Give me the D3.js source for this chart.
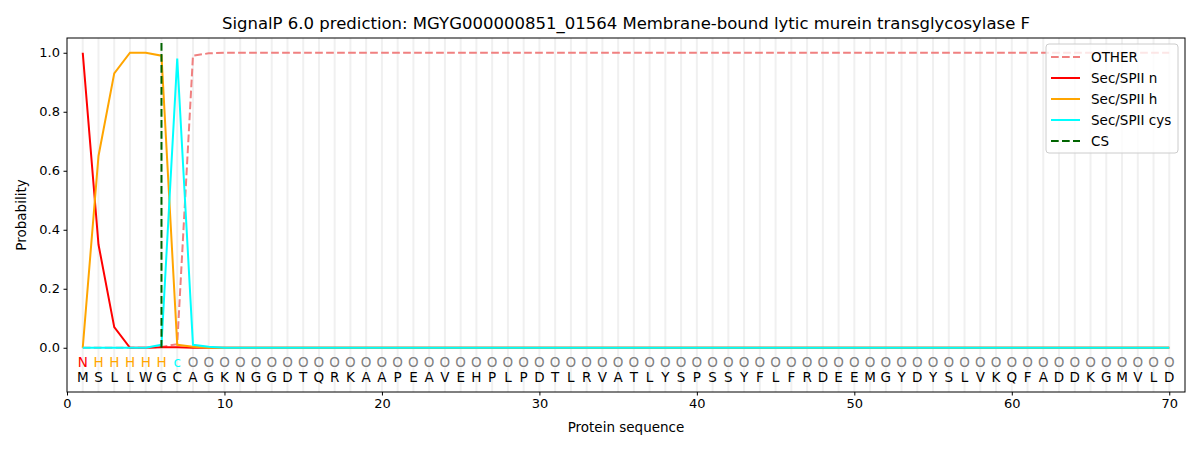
<!DOCTYPE html>
<html><head><meta charset="utf-8">
<script src="https://cdn.jsdelivr.net/npm/d3@7"></script>
<style>body{margin:0;background:#fff}svg{display:block;font-family:"DejaVu Sans",sans-serif}</style>
</head><body>
<script>
const sequence = "MSLLWGCAGKNGGDTQRKAAPEAVEHPLPDTLRVATLYSPSSYFLFRDEEMGYDYSLVKQFADDKGMVLD".split("");
const regionLabels = ["N","H","H","H","H","H","c"].concat(Array(63).fill("O"));
const positions = d3.range(1, 71);
const otherVals = [0,0,0,0,0,0.003,0.012,0.99,0.998].concat(Array(61).fill(1.0));
const nVals = [1.0,0.35,0.07,0,0,0.002,0.002,0].concat(Array(62).fill(0));
const hVals = [0,0.65,0.93,1.0,1.0,0.99,0.01,0.003,0].concat(Array(61).fill(0));
const cysVals = [0,0,0,0,0,0.01,0.98,0.01,0.003].concat(Array(61).fill(0));
const csPos = 6;
const xTicks = [0,10,20,30,40,50,60,70];
const yTicks = [0,0.2,0.4,0.6,0.8,1.0];
const seriesList = [
  {name:"OTHER", vals:otherVals, color:"#f08080", dash:"7.7,3.3"},
  {name:"Sec/SPII n", vals:nVals, color:"#ff0000", dash:null},
  {name:"Sec/SPII h", vals:hVals, color:"#ffa500", dash:null},
  {name:"Sec/SPII cys", vals:cysVals, color:"#00ffff", dash:null}
];
const labelColor = {N:"#ff0000", H:"#ffa500", c:"#00ffff", O:"#808080"};

const W=1200,H=450, L=67, R=1185, T=38, B=392;
const svg = d3.select("body").append("svg").attr("width",W).attr("height",H);
const x = d3.scaleLinear().domain([0,71]).range([L,R]);
const y = d3.scaleLinear().domain([-0.15,1.05]).range([B,T]);

// grid lines
svg.append("g").selectAll("line").data(positions).join("line")
  .attr("x1",d=>x(d)).attr("x2",d=>x(d)).attr("y1",T).attr("y2",B)
  .attr("stroke","#f0f0f0").attr("stroke-width",2);

const line = d3.line().x((d,i)=>x(positions[i])).y(d=>y(d));
seriesList.forEach(s=>{
  svg.append("path").datum(s.vals).attr("d",line).attr("fill","none")
    .attr("stroke",s.color).attr("stroke-width",2)
    .attr("stroke-dasharray",s.dash);
});
svg.append("line").attr("x1",x(csPos)).attr("x2",x(csPos)).attr("y1",y(0)).attr("y2",y(1.04))
  .attr("stroke","#006400").attr("stroke-width",2).attr("stroke-dasharray","7.7,3.3");

// letters
svg.append("g").selectAll("text").data(regionLabels).join("text")
  .attr("x",(d,i)=>x(positions[i])).attr("y",y(-0.05)).attr("dy","0.36em")
  .attr("text-anchor","middle").attr("font-size",13.5).attr("fill",d=>labelColor[d]).text(d=>d);
svg.append("g").selectAll("text").data(sequence).join("text")
  .attr("x",(d,i)=>x(positions[i])).attr("y",y(-0.1)).attr("dy","0.36em")
  .attr("text-anchor","middle").attr("font-size",13.5).attr("fill","#000").text(d=>d);

// axes
const xa = svg.append("g").attr("transform",`translate(0,${B})`)
  .call(d3.axisBottom(x).tickValues(xTicks).tickFormat(d3.format("d")).tickSize(3.5).tickPadding(3.5));
const ya = svg.append("g").attr("transform",`translate(${L},0)`)
  .call(d3.axisLeft(y).tickValues(yTicks).tickFormat(d3.format(".1f")).tickSize(3.5).tickPadding(3.5));
[xa,ya].forEach(a=>{a.selectAll("text").attr("font-size",13).attr("fill","#000").attr("font-family","DejaVu Sans");
  a.select(".domain").remove(); a.selectAll(".tick line").attr("stroke","#000");});
svg.append("rect").attr("x",L).attr("y",T).attr("width",R-L).attr("height",B-T)
  .attr("fill","none").attr("stroke","#000").attr("stroke-width",1);

svg.append("text").attr("x",(L+R)/2).attr("y",29).attr("text-anchor","middle")
  .attr("font-size",16.5).text("SignalP 6.0 prediction: MGYG000000851_01564 Membrane-bound lytic murein transglycosylase F");
svg.append("text").attr("x",(L+R)/2).attr("y",432).attr("text-anchor","middle")
  .attr("font-size",13.5).text("Protein sequence");
svg.append("text").attr("transform",`translate(26,${(T+B)/2}) rotate(-90)`).attr("text-anchor","middle")
  .attr("font-size",13.5).text("Probability");

// legend
const lg = svg.append("g");
lg.append("rect").attr("x",1046).attr("y",44).attr("width",132).attr("height",109).attr("rx",3)
  .attr("fill","#fff").attr("fill-opacity",0.8).attr("stroke","#ccc");
const legItems = seriesList.map(s=>({name:s.name,color:s.color,dash:s.dash}))
  .concat([{name:"CS",color:"#006400",dash:"7.7,3.3"}]);
legItems.forEach((d,i)=>{
  const yy = 57 + i*21;
  lg.append("line").attr("x1",1051).attr("x2",1080).attr("y1",yy).attr("y2",yy)
    .attr("stroke",d.color).attr("stroke-width",2).attr("stroke-dasharray",d.dash);
  lg.append("text").attr("x",1091).attr("y",yy).attr("dy","0.36em").attr("font-size",13.5).text(d.name);
});
</script>
</body></html>
